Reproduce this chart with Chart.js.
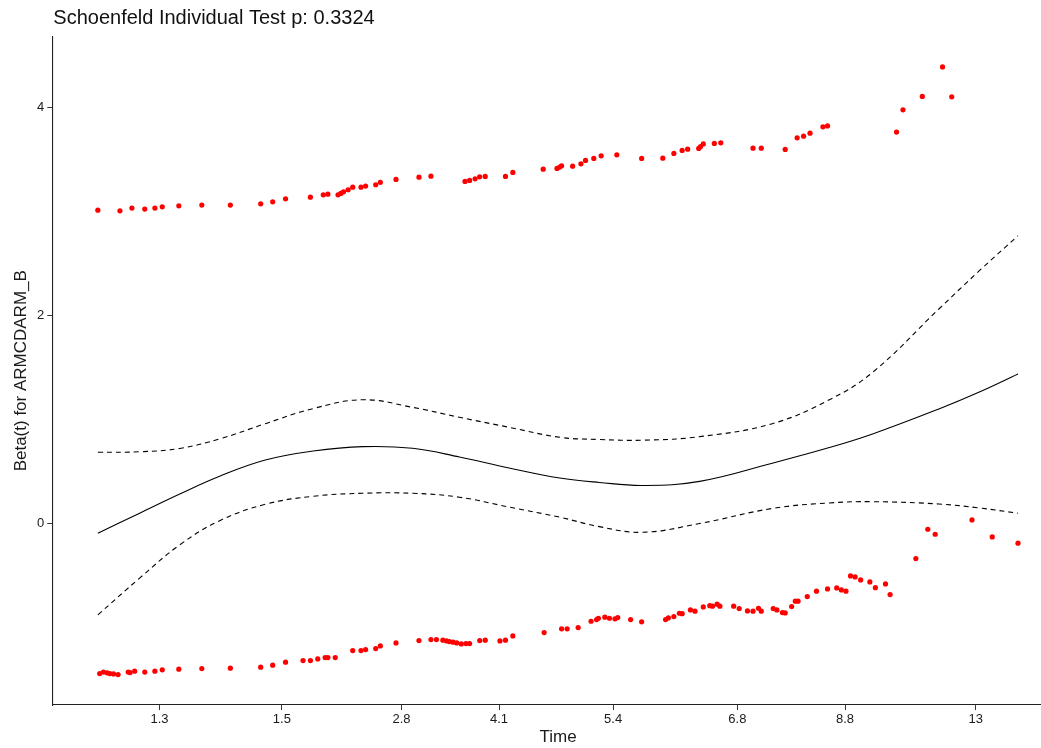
<!DOCTYPE html>
<html>
<head>
<meta charset="utf-8">
<script src="https://cdn.jsdelivr.net/npm/chart.js@4/dist/chart.umd.min.js"></script>
<style>
  body { margin: 0; background: #fff; }
  #wrap { width: 1041px; height: 748px; overflow: hidden; }
</style>
</head>
<body>
<div id="wrap"><canvas id="canvas" width="1075" height="748"></canvas></div>
<script>
// x is on the km-transformed time scale, tick labels are the real times
var timeTickPos = [0.068, 0.201, 0.331, 0.437, 0.561, 0.696, 0.813, 0.955];
var timeTickLabels = ['1.3', '1.5', '2.8', '4.1', '5.4', '6.8', '8.8', '13'];
var betaTicks = [0, 2, 4];

// scaled schoenfeld residuals, events in arm B (upper band)
var residTimeB = [0.001, 0.025, 0.038, 0.052, 0.063, 0.071, 0.089, 0.114, 0.145, 0.178, 0.191, 0.205,
  0.232, 0.246, 0.251, 0.262, 0.265, 0.268, 0.273, 0.278, 0.287, 0.292, 0.303, 0.308, 0.325, 0.350,
  0.363, 0.400, 0.405, 0.411, 0.416, 0.422, 0.444, 0.452, 0.485, 0.500, 0.503, 0.505, 0.517, 0.526,
  0.531, 0.540, 0.548, 0.565, 0.592, 0.615, 0.627, 0.636, 0.642, 0.654, 0.656, 0.659, 0.671, 0.678,
  0.713, 0.722, 0.748, 0.761, 0.768, 0.775, 0.789, 0.794, 0.869, 0.876, 0.897, 0.919, 0.929];
var residBetaB = [3.012, 3.006, 3.032, 3.022, 3.032, 3.044, 3.054, 3.061, 3.061, 3.073, 3.092, 3.121,
  3.137, 3.159, 3.166, 3.159, 3.173, 3.188, 3.208, 3.233, 3.233, 3.243, 3.256, 3.279, 3.307, 3.329,
  3.339, 3.288, 3.298, 3.313, 3.332, 3.336, 3.336, 3.375, 3.406, 3.413, 3.426, 3.438, 3.435, 3.457,
  3.490, 3.509, 3.534, 3.544, 3.509, 3.512, 3.557, 3.586, 3.598, 3.605, 3.624, 3.649, 3.653, 3.659,
  3.608, 3.608, 3.596, 3.707, 3.723, 3.752, 3.813, 3.822, 3.762, 3.976, 4.105, 4.389, 4.101];

// events in the reference arm (lower band)
var residTimeA = [0.003, 0.007, 0.011, 0.014, 0.018, 0.023, 0.034, 0.036, 0.041, 0.052, 0.063, 0.071,
  0.089, 0.114, 0.145, 0.178, 0.191, 0.205, 0.224, 0.232, 0.240, 0.248, 0.251, 0.259, 0.278, 0.287,
  0.292, 0.303, 0.308, 0.325, 0.350, 0.363, 0.369, 0.376, 0.380, 0.383, 0.387, 0.391, 0.396, 0.401,
  0.405, 0.416, 0.422, 0.438, 0.444, 0.452, 0.486, 0.505, 0.511, 0.523, 0.537, 0.543, 0.545, 0.552,
  0.557, 0.563, 0.566, 0.580, 0.592, 0.618, 0.621, 0.627, 0.633, 0.636, 0.645, 0.650, 0.659, 0.666,
  0.669, 0.674, 0.677, 0.692, 0.698, 0.707, 0.713, 0.719, 0.722, 0.735, 0.739, 0.745, 0.748, 0.755,
  0.759, 0.762, 0.772, 0.782, 0.794, 0.804, 0.809, 0.814, 0.819, 0.824, 0.830, 0.840, 0.846, 0.857,
  0.862, 0.890, 0.903, 0.911, 0.951, 0.973, 1.001];
var residBetaA = [-1.442, -1.428, -1.435, -1.442, -1.445, -1.452, -1.428, -1.432, -1.419, -1.428, -1.419, -1.406,
  -1.400, -1.394, -1.390, -1.380, -1.361, -1.332, -1.317, -1.317, -1.301, -1.288, -1.288, -1.288, -1.221, -1.221,
  -1.211, -1.202, -1.176, -1.147, -1.125, -1.115, -1.115, -1.121, -1.128, -1.134, -1.140, -1.147, -1.157, -1.154,
  -1.154, -1.125, -1.121, -1.128, -1.121, -1.080, -1.048, -1.012, -1.012, -1.000, -0.939, -0.923, -0.910, -0.900,
  -0.910, -0.916, -0.904, -0.923, -0.945, -0.923, -0.907, -0.894, -0.862, -0.866, -0.830, -0.842, -0.801, -0.789,
  -0.794, -0.775, -0.794, -0.794, -0.817, -0.840, -0.842, -0.814, -0.842, -0.817, -0.830, -0.856, -0.859, -0.798,
  -0.746, -0.746, -0.702, -0.650, -0.628, -0.619, -0.638, -0.650, -0.503, -0.513, -0.542, -0.561, -0.616, -0.580,
  -0.683, -0.337, -0.055, -0.103, 0.035, -0.129, -0.189];

// smoothed beta(t) with confidence band
var fitTime  = [0.001, 0.047, 0.090, 0.134, 0.183, 0.235, 0.289, 0.343, 0.394, 0.448,
  0.503, 0.546, 0.593, 0.655, 0.734, 0.796, 0.843, 0.915, 0.959, 1.001];
var fitBeta  = [-0.093, 0.102, 0.284, 0.457, 0.610, 0.697, 0.739, 0.723, 0.640, 0.534,
  0.438, 0.395, 0.366, 0.405, 0.580, 0.730, 0.861, 1.101, 1.264, 1.437];
var fitUpper = [0.685, 0.690, 0.722, 0.815, 0.960, 1.105, 1.190, 1.117, 1.021, 0.925,
  0.829, 0.808, 0.801, 0.835, 0.960, 1.190, 1.453, 2.062, 2.430, 2.766];
var fitLower = [-0.878, -0.520, -0.205, 0.030, 0.185, 0.262, 0.291, 0.291, 0.253, 0.158,
  0.061, -0.030, -0.084, 0.000, 0.145, 0.198, 0.210, 0.188, 0.150, 0.099];

function pairs(xs, ys) {
  return xs.map(function(x, i) { return {x: x, y: ys[i]}; });
}

var fontFam = '"Liberation Sans", Arial, sans-serif';

var titlePlugin = {
  id: 'subtitleText',
  afterDraw: function(chart) {
    var c = chart.ctx;
    c.save();
    c.font = '20px ' + fontFam;
    c.fillStyle = '#111';
    c.textAlign = 'left';
    c.textBaseline = 'alphabetic';
    c.fillText('Schoenfeld Individual Test p: 0.3324', chart.chartArea.left + 1, 24);
    c.restore();
  }
};

var residStyle = {
  type: 'scatter',
  showLine: false,
  pointRadius: 2.6,
  pointBackgroundColor: '#ff0000',
  pointBorderWidth: 0,
  pointBorderColor: '#ff0000'
};

var ctx = document.getElementById('canvas').getContext('2d');
var config = {
  type: 'scatter',
  data: {
    datasets: [
      Object.assign({label: 'resid A', data: pairs(residTimeA, residBetaA)}, residStyle),
      Object.assign({label: 'resid B', data: pairs(residTimeB, residBetaB)}, residStyle),
      {
        type: 'line', label: 'beta(t)', data: pairs(fitTime, fitBeta),
        borderColor: '#000', borderWidth: 1.1, pointRadius: 0, tension: 0.4, fill: false
      },
      {
        type: 'line', label: 'upper', data: pairs(fitTime, fitUpper),
        borderColor: '#000', borderWidth: 1.1, borderDash: [5, 4], pointRadius: 0, tension: 0.4, fill: false
      },
      {
        type: 'line', label: 'lower', data: pairs(fitTime, fitLower),
        borderColor: '#000', borderWidth: 1.1, borderDash: [5, 4], pointRadius: 0, tension: 0.4, fill: false
      }
    ]
  },
  options: {
    responsive: false,
    animation: false,
    layout: { padding: { top: 36.5, right: 11, bottom: 0, left: 0 } },
    plugins: { legend: { display: false }, tooltip: { enabled: false }, title: { display: false } },
    scales: {
      x: {
        type: 'linear',
        min: -0.0485,
        max: 1.051,
        afterFit: function(s) { s.height = 43; },
        afterBuildTicks: function(s) {
          s.ticks = timeTickPos.map(function(v) { return {value: v}; });
        },
        ticks: {
          autoSkip: false,
          maxRotation: 0,
          padding: 2,
          color: '#1a1a1a',
          font: { family: fontFam, size: 13 },
          callback: function(v, i) { return timeTickLabels[i]; }
        },
        grid: { drawOnChartArea: false, drawTicks: true, tickLength: 5, color: '#333', tickWidth: 1 },
        border: { display: true, color: '#222', width: 1.1 },
        title: {
          display: true, text: 'Time', color: '#1a1a1a',
          font: { family: fontFam, size: 17 }, padding: { top: 0, bottom: 0 }
        }
      },
      y: {
        type: 'linear',
        min: -1.744,
        max: 4.681,
        afterFit: function(s) { s.width = 52.3; },
        afterBuildTicks: function(s) {
          s.ticks = betaTicks.map(function(v) { return {value: v}; });
        },
        ticks: {
          padding: 3,
          color: '#1a1a1a',
          font: { family: fontFam, size: 13 }
        },
        grid: { drawOnChartArea: false, drawTicks: true, tickLength: 5, color: '#333', tickWidth: 1 },
        border: { display: true, color: '#222', width: 1.1 },
        title: {
          display: true, text: 'Beta(t) for ARMCDARM_B', color: '#1a1a1a',
          font: { family: fontFam, size: 17 }, padding: { top: 11, bottom: 0 }
        }
      }
    }
  },
  plugins: [titlePlugin]
};

var chart = new Chart(ctx, config);
</script>
</body>
</html>
